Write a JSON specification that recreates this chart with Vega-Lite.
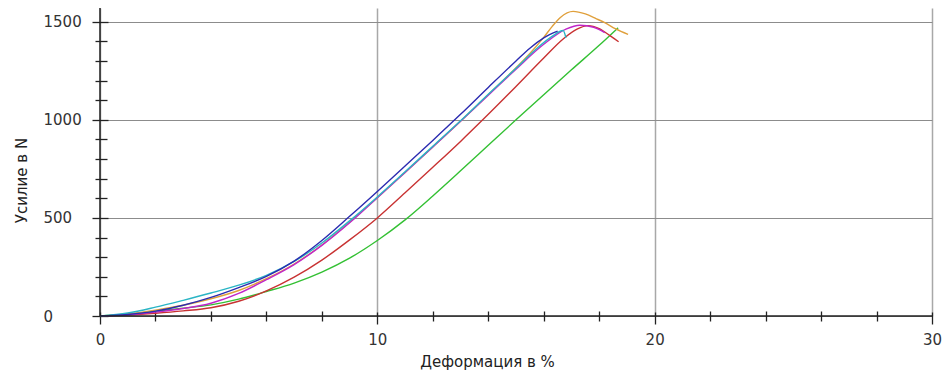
{
  "$schema": "https://vega.github.io/schema/vega-lite/v6.json",
  "width": 832,
  "height": 308,
  "autosize": {"type": "none"},
  "padding": {"left": 100, "top": 8, "right": 13, "bottom": 57},
  "background": "white",
  "config": {
    "view": {"stroke": null},
    "font": "DejaVu Sans",
    "axis": {
      "labelFont": "DejaVu Sans",
      "labelFontSize": 15,
      "labelColor": "#333333",
      "labelFlush": false,
      "labelOverlap": false,
      "titleFont": "DejaVu Sans",
      "titleFontSize": 15,
      "titleFontWeight": "normal",
      "titleColor": "#222222",
      "tickColor": "#222222",
      "tickWidth": 1.3
    }
  },
  "datasets": {
    "curves": [
      {"s": "green", "x": 0, "y": 0}, {"s": "green", "x": 1, "y": 10}, {"s": "green", "x": 2, "y": 25}, {"s": "green", "x": 3, "y": 40}, {"s": "green", "x": 4, "y": 57}, {"s": "green", "x": 5, "y": 86}, {"s": "green", "x": 6, "y": 125}, {"s": "green", "x": 7, "y": 168}, {"s": "green", "x": 8, "y": 224}, {"s": "green", "x": 9, "y": 295}, {"s": "green", "x": 10, "y": 385}, {"s": "green", "x": 11, "y": 490}, {"s": "green", "x": 12, "y": 612}, {"s": "green", "x": 13, "y": 740}, {"s": "green", "x": 14, "y": 870}, {"s": "green", "x": 15, "y": 1000}, {"s": "green", "x": 16, "y": 1128}, {"s": "green", "x": 17, "y": 1255}, {"s": "green", "x": 18, "y": 1380}, {"s": "green", "x": 18.68, "y": 1469},
      {"s": "red", "x": 0, "y": 0}, {"s": "red", "x": 1, "y": 5}, {"s": "red", "x": 2, "y": 14}, {"s": "red", "x": 3, "y": 26}, {"s": "red", "x": 4, "y": 42}, {"s": "red", "x": 5, "y": 75}, {"s": "red", "x": 6, "y": 128}, {"s": "red", "x": 7, "y": 198}, {"s": "red", "x": 8, "y": 285}, {"s": "red", "x": 9, "y": 388}, {"s": "red", "x": 10, "y": 500}, {"s": "red", "x": 11, "y": 628}, {"s": "red", "x": 12, "y": 758}, {"s": "red", "x": 13, "y": 890}, {"s": "red", "x": 13.8, "y": 1000}, {"s": "red", "x": 15, "y": 1170}, {"s": "red", "x": 16, "y": 1315}, {"s": "red", "x": 16.7, "y": 1412}, {"s": "red", "x": 17.2, "y": 1462}, {"s": "red", "x": 17.6, "y": 1480}, {"s": "red", "x": 18.0, "y": 1465}, {"s": "red", "x": 18.4, "y": 1428}, {"s": "red", "x": 18.7, "y": 1398},
      {"s": "gold", "x": 0, "y": 0}, {"s": "gold", "x": 1, "y": 10}, {"s": "gold", "x": 2, "y": 30}, {"s": "gold", "x": 3, "y": 55}, {"s": "gold", "x": 4, "y": 88}, {"s": "gold", "x": 5, "y": 130}, {"s": "gold", "x": 6, "y": 190}, {"s": "gold", "x": 7, "y": 265}, {"s": "gold", "x": 8, "y": 362}, {"s": "gold", "x": 9, "y": 478}, {"s": "gold", "x": 10, "y": 603}, {"s": "gold", "x": 11, "y": 732}, {"s": "gold", "x": 12, "y": 862}, {"s": "gold", "x": 13, "y": 993}, {"s": "gold", "x": 14, "y": 1128}, {"s": "gold", "x": 15, "y": 1265}, {"s": "gold", "x": 15.5, "y": 1338}, {"s": "gold", "x": 16, "y": 1420}, {"s": "gold", "x": 16.3, "y": 1475}, {"s": "gold", "x": 16.6, "y": 1522}, {"s": "gold", "x": 17.06, "y": 1553}, {"s": "gold", "x": 17.5, "y": 1540}, {"s": "gold", "x": 17.9, "y": 1515}, {"s": "gold", "x": 18.2, "y": 1495}, {"s": "gold", "x": 18.6, "y": 1463}, {"s": "gold", "x": 19.04, "y": 1435},
      {"s": "magenta", "x": 0, "y": 0}, {"s": "magenta", "x": 1, "y": 6}, {"s": "magenta", "x": 2, "y": 20}, {"s": "magenta", "x": 3, "y": 38}, {"s": "magenta", "x": 4, "y": 65}, {"s": "magenta", "x": 5, "y": 115}, {"s": "magenta", "x": 6, "y": 185}, {"s": "magenta", "x": 7, "y": 262}, {"s": "magenta", "x": 8, "y": 360}, {"s": "magenta", "x": 9, "y": 475}, {"s": "magenta", "x": 10, "y": 603}, {"s": "magenta", "x": 11, "y": 732}, {"s": "magenta", "x": 12, "y": 862}, {"s": "magenta", "x": 13, "y": 993}, {"s": "magenta", "x": 14, "y": 1125}, {"s": "magenta", "x": 15, "y": 1258}, {"s": "magenta", "x": 16, "y": 1385}, {"s": "magenta", "x": 16.8, "y": 1462}, {"s": "magenta", "x": 17.3, "y": 1482}, {"s": "magenta", "x": 17.8, "y": 1472}, {"s": "magenta", "x": 18.2, "y": 1445},
      {"s": "cyan", "x": 0, "y": 0}, {"s": "cyan", "x": 1, "y": 15}, {"s": "cyan", "x": 2, "y": 45}, {"s": "cyan", "x": 3, "y": 80}, {"s": "cyan", "x": 4, "y": 117}, {"s": "cyan", "x": 5, "y": 157}, {"s": "cyan", "x": 6, "y": 207}, {"s": "cyan", "x": 7, "y": 278}, {"s": "cyan", "x": 8, "y": 372}, {"s": "cyan", "x": 9, "y": 485}, {"s": "cyan", "x": 10, "y": 607}, {"s": "cyan", "x": 11, "y": 735}, {"s": "cyan", "x": 12, "y": 865}, {"s": "cyan", "x": 13, "y": 995}, {"s": "cyan", "x": 14, "y": 1130}, {"s": "cyan", "x": 15, "y": 1263}, {"s": "cyan", "x": 15.8, "y": 1370}, {"s": "cyan", "x": 16.3, "y": 1425}, {"s": "cyan", "x": 16.7, "y": 1455}, {"s": "cyan", "x": 16.8, "y": 1418},
      {"s": "blue", "x": 0, "y": 0}, {"s": "blue", "x": 1, "y": 8}, {"s": "blue", "x": 2, "y": 25}, {"s": "blue", "x": 3, "y": 55}, {"s": "blue", "x": 4, "y": 95}, {"s": "blue", "x": 5, "y": 145}, {"s": "blue", "x": 6, "y": 202}, {"s": "blue", "x": 7, "y": 280}, {"s": "blue", "x": 8, "y": 385}, {"s": "blue", "x": 9, "y": 508}, {"s": "blue", "x": 10, "y": 635}, {"s": "blue", "x": 11, "y": 765}, {"s": "blue", "x": 12, "y": 895}, {"s": "blue", "x": 13, "y": 1028}, {"s": "blue", "x": 14, "y": 1165}, {"s": "blue", "x": 15, "y": 1300}, {"s": "blue", "x": 15.5, "y": 1365}, {"s": "blue", "x": 16, "y": 1418}, {"s": "blue", "x": 16.5, "y": 1452}
    ],
    "origin": [{"v": 0}]
  },
  "layer": [
    {
      "data": {"name": "curves"},
      "mark": {"type": "line", "strokeWidth": 1.4, "interpolate": "monotone"},
      "encoding": {
        "x": {
          "field": "x", "type": "quantitative",
          "scale": {"domain": [0, 30], "nice": false, "zero": false},
          "axis": {
            "values": [0, 10, 20, 30], "format": "d", "grid": true, "gridColor": "#a8a8a8", "gridWidth": 1.5,
            "domain": false, "tickSize": 12, "offset": -4, "labelPadding": 8,
            "title": "Деформация в %", "titlePadding": 7, "titleX": 387, "orient": "bottom"
          }
        },
        "y": {
          "field": "y", "type": "quantitative",
          "scale": {"domain": [0, 1570], "nice": false, "zero": false},
          "axis": {
            "values": [0, 500, 1000, 1500], "format": "d", "grid": true, "gridColor": "#8c8c8c", "gridWidth": 1.2,
            "domain": false, "tickSize": 16, "offset": -8, "labelPadding": 49, "labelAlign": "left",
            "title": "Усилие в N", "titlePadding": 14, "titleY": 172, "orient": "left"
          }
        },
        "color": {
          "field": "s", "type": "nominal", "legend": null,
          "scale": {
            "domain": ["green", "red", "gold", "magenta", "cyan", "blue"],
            "range": ["#33c033", "#c83232", "#e0a03c", "#c026c8", "#2ab5c5", "#2b2bb0"]
          }
        }
      }
    },
    {
      "data": {"name": "origin"},
      "mark": {"type": "rule", "color": "#222222", "strokeWidth": 1.5},
      "encoding": {
        "x": {
          "field": "v", "type": "quantitative",
          "axis": {
            "values": [2, 4, 6, 8, 12, 14, 16, 18, 22, 24, 26, 28], "grid": false, "domain": false,
            "labels": false, "title": null, "tickSize": 10, "offset": -5, "orient": "bottom"
          }
        }
      }
    },
    {
      "data": {"name": "origin"},
      "mark": {"type": "rule", "color": "#222222", "strokeWidth": 1.5},
      "encoding": {
        "y": {
          "field": "v", "type": "quantitative",
          "axis": {
            "values": [100, 200, 300, 400, 600, 700, 800, 900, 1100, 1200, 1300, 1400], "grid": false, "domain": false,
            "labels": false, "title": null, "tickSize": 12, "offset": -7, "orient": "left"
          }
        }
      }
    }
  ],
  "resolve": {"axis": {"x": "independent", "y": "independent"}}
}
